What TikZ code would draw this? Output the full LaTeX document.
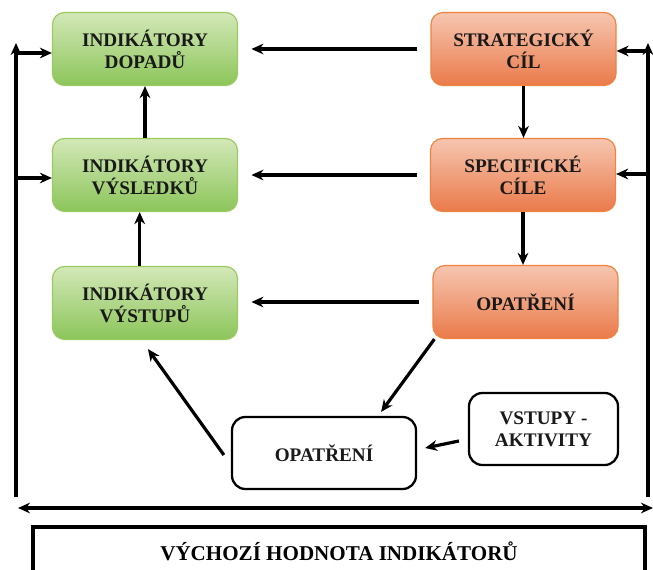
\documentclass[tikz,border=0pt]{standalone}
\usepackage{fontspec}
\setmainfont{Liberation Serif}
\usetikzlibrary{arrows.meta}
\usetikzlibrary{calc}
\definecolor{greenTop}{HTML}{D3E8B8}
\definecolor{greenBot}{HTML}{8CC55A}
\definecolor{greenLine}{HTML}{9CCB62}
\definecolor{orangeTop}{HTML}{F6C6B0}
\definecolor{orangeBot}{HTML}{EA7A4A}
\definecolor{orangeLine}{HTML}{F0843F}
\tikzstyle{boxtext}=[align=center, font=\bfseries\fontsize{14.4}{16.5}\selectfont, text=black!90]
\tikzstyle{greenbox}=[boxtext, draw=greenLine, line width=0.9pt, rounded corners=9pt, top color=greenTop, bottom color=greenBot, minimum width=138.75pt, minimum height=54.75pt]
\tikzstyle{orangebox}=[boxtext, draw=orangeLine, line width=0.9pt, rounded corners=9pt, top color=orangeTop, bottom color=orangeBot, minimum width=138.75pt, minimum height=54.75pt]
\tikzstyle{whitebox}=[boxtext, draw, line width=1.7pt, rounded corners=10pt, fill=white, minimum height=54pt]
\tikzstyle{line}=[line width=2.4pt]
\tikzstyle{arrow}=[line, -{Stealth[length=9pt,width=8pt]}]

\begin{document}
\begin{tikzpicture}[x=0.75pt, y=-0.75pt]
      \clip (0,0) rectangle (653,570);
      \fill[white] (0,0) rectangle (653,570);

      \node[greenbox] (dopady) at (145,49) {INDIKÁTORY\\DOPADŮ};
      \node[greenbox] (vysledky) at (145,175) {INDIKÁTORY\\VÝSLEDKŮ};
      \node[greenbox] (vystupy) at (145,303) {INDIKÁTORY\\VÝSTUPŮ};
      \node[orangebox] (strategicky) at (523.5,49) {STRATEGICKÝ\\CÍL};
      \node[orangebox] (specificke) at (523,175) {SPECIFICKÉ\\CÍLE};
      \node[orangebox] (opatreniO) at (525.5,302) {OPATŘENÍ};
      \node[whitebox, minimum width=138pt] (opatreniW) at (324,453) {OPATŘENÍ};
      \node[whitebox, minimum width=111.75pt] (vstupy) at (543.5,429) {VSTUPY -\\AKTIVITY};

      \coordinate (leftTop) at (16,43);
      \coordinate (leftBot) at (16,497);
      \coordinate (rightTop) at (648,43);
      \coordinate (rightBot) at (648,497);
      \coordinate (baseLeft) at (18,508);
      \coordinate (baseRight) at (653,508);

      % orange to green
      \draw[arrow, shorten <=10pt, shorten >=10pt] (strategicky.west) -- (dopady.east);
      \draw[arrow, shorten <=10pt, shorten >=10pt] (specificke.west) -- (vysledky.east);
      \draw[arrow, shorten <=10pt, shorten >=10pt] (opatreniO.west) -- (vystupy.east |- opatreniO.west);

      \draw[arrow] (vysledky.north) -- (dopady.south);
      \draw[arrow] ([xshift=-4pt]vystupy.north) -- ([xshift=-4pt]vysledky.south);
      \draw[arrow] (strategicky.south) -- (strategicky.south |- specificke.north);
      \draw[arrow] (specificke.south) -- (specificke.south |- opatreniO.north);

      \draw[arrow] ([shift={(2,0)}]opatreniO.south west) -- ([shift={(-36,-4)}]opatreniW.north east);
      \draw[arrow] ([shift={(-7,2)}]opatreniW.west) -- ([shift={(3,9)}]vystupy.south);
      \draw[arrow] ([shift={(-9,12)}]vstupy.west) -- ([shift={(8,-5)}]opatreniW.east);

      % side loops
      \draw[arrow] (leftBot) -- (leftTop);
      \draw[arrow] (leftTop |- 0,53) -- (dopady.west |- 0,53);
      \draw[arrow] (leftTop |- 0,178) -- (vysledky.west |- 0,178);
      \draw[arrow] (rightBot) -- (rightTop);
      \draw[arrow] (rightTop |- 0,51) -- (strategicky.east |- 0,51);
      \draw[arrow] (rightTop |- 0,174) -- (specificke.east |- 0,174);
      \draw[line, {Stealth[length=9pt,width=8pt]}-{Stealth[length=9pt,width=8pt]}] (baseLeft) -- (baseRight);

      \draw[line width=2.4pt] (33,600) -- (33,527) -- (645,527) -- (645,600);
      \node[font=\bfseries\fontsize{15.8}{18}\selectfont] (vychozi) at (339,551) {VÝCHOZÍ HODNOTA INDIKÁTORŮ};

    \end{tikzpicture}
\end{document}
